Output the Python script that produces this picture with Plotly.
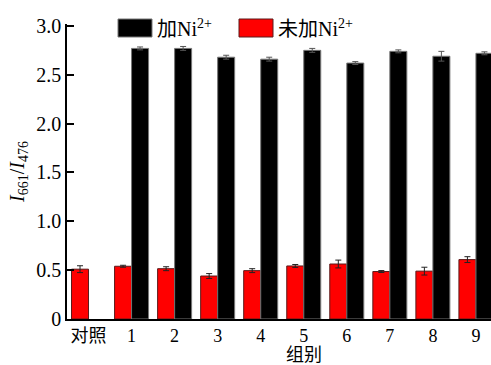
import plotly.graph_objects as go

# Groups and measured ratios I661/I476
groups = ["对照", "1", "2", "3", "4", "5", "6", "7", "8", "9"]
with_ni = [None, 2.77, 2.77, 2.68, 2.66, 2.75, 2.62, 2.74, 2.69, 2.72]
with_ni_err = [None, 0.015, 0.02, 0.02, 0.02, 0.02, 0.015, 0.015, 0.05, 0.015]
without_ni = [0.51, 0.54, 0.515, 0.44, 0.495, 0.543, 0.563, 0.486, 0.49, 0.608]
without_ni_err = [0.035, 0.01, 0.02, 0.025, 0.02, 0.015, 0.04, 0.01, 0.04, 0.03]
y_ticks = [0, 0.5, 1.0, 1.5, 2.0, 2.5, 3.0]
y_tick_text = ["0", "0.5", "1.0", "1.5", "2.0", "2.5", "3.0"]

serif = "Liberation Serif, Times New Roman, Noto Sans CJK SC, serif"

fig = go.Figure()
fig.add_trace(go.Bar(
    x=groups, y=without_ni, name="未加Ni<sup>2+</sup>",
    marker=dict(color="#ff0000", line=dict(color="#5a1a1a", width=1)),
    error_y=dict(type="data", array=without_ni_err, color="#222", thickness=1, width=3),
    showlegend=False,
))
fig.add_trace(go.Bar(
    x=groups, y=with_ni, name="加Ni<sup>2+</sup>",
    marker=dict(color="#000000", line=dict(color="#777", width=1)),
    error_y=dict(type="data", array=with_ni_err, color="#555", thickness=1, width=3),
    showlegend=False,
))

# Legend drawn as large swatches with labels
legend_items = [("#000000", "#777", "加Ni<sup>2+</sup>", 118, 152),
                ("#ff0000", "#5a1a1a", "未加Ni<sup>2+</sup>", 239, 273)]
W, H = 491, 365
ml, mt, mb = 67, 24, 46
pw, ph = W - ml, H - mt - mb
for fill, edge, label, x0, x1 in legend_items:
    fig.add_shape(type="rect", xref="paper", yref="paper",
                  x0=(x0 - ml) / pw, x1=(x1 - ml) / pw,
                  y0=(H - mb - 37) / ph, y1=(H - mb - 19) / ph,
                  fillcolor=fill, line=dict(color=edge, width=1))
    fig.add_annotation(xref="paper", yref="paper", x=(x1 + 3 - ml) / pw,
                       y=(H - mb - 28) / ph, text=label, showarrow=False,
                       xanchor="left", yanchor="middle",
                       font=dict(family=serif, size=20, color="black"))

fig.add_annotation(xref="paper", yref="paper", x=(304 - ml) / pw, y=(H - mb - 355) / ph,
                   text="组别", showarrow=False, xanchor="center", yanchor="middle",
                   font=dict(family=serif, size=18, color="black"))

fig.update_layout(
    width=W, height=H,
    margin=dict(l=ml, r=0, t=mt, b=mb),
    paper_bgcolor="white", plot_bgcolor="white",
    barmode="group", bargap=0.21, bargroupgap=0,
    font=dict(family=serif, size=18, color="black"),
    xaxis=dict(range=[-0.5, 9.35], showline=True, linecolor="black", linewidth=1.5,
               ticks="", showgrid=False, tickfont=dict(size=18)),
    yaxis=dict(range=[0, 3.02], showline=True, linecolor="black", linewidth=1.5,
               ticks="inside", ticklen=7, tickwidth=1.5, tickcolor="black",
               tickvals=y_ticks, ticktext=y_tick_text, showgrid=False, zeroline=False,
               tickfont=dict(size=20),
               title=dict(text="<i>I</i><sub>661</sub>/<i>I</i><sub>476</sub>",
                          font=dict(size=20), standoff=6)),
)

fig.write_html("out.html")
